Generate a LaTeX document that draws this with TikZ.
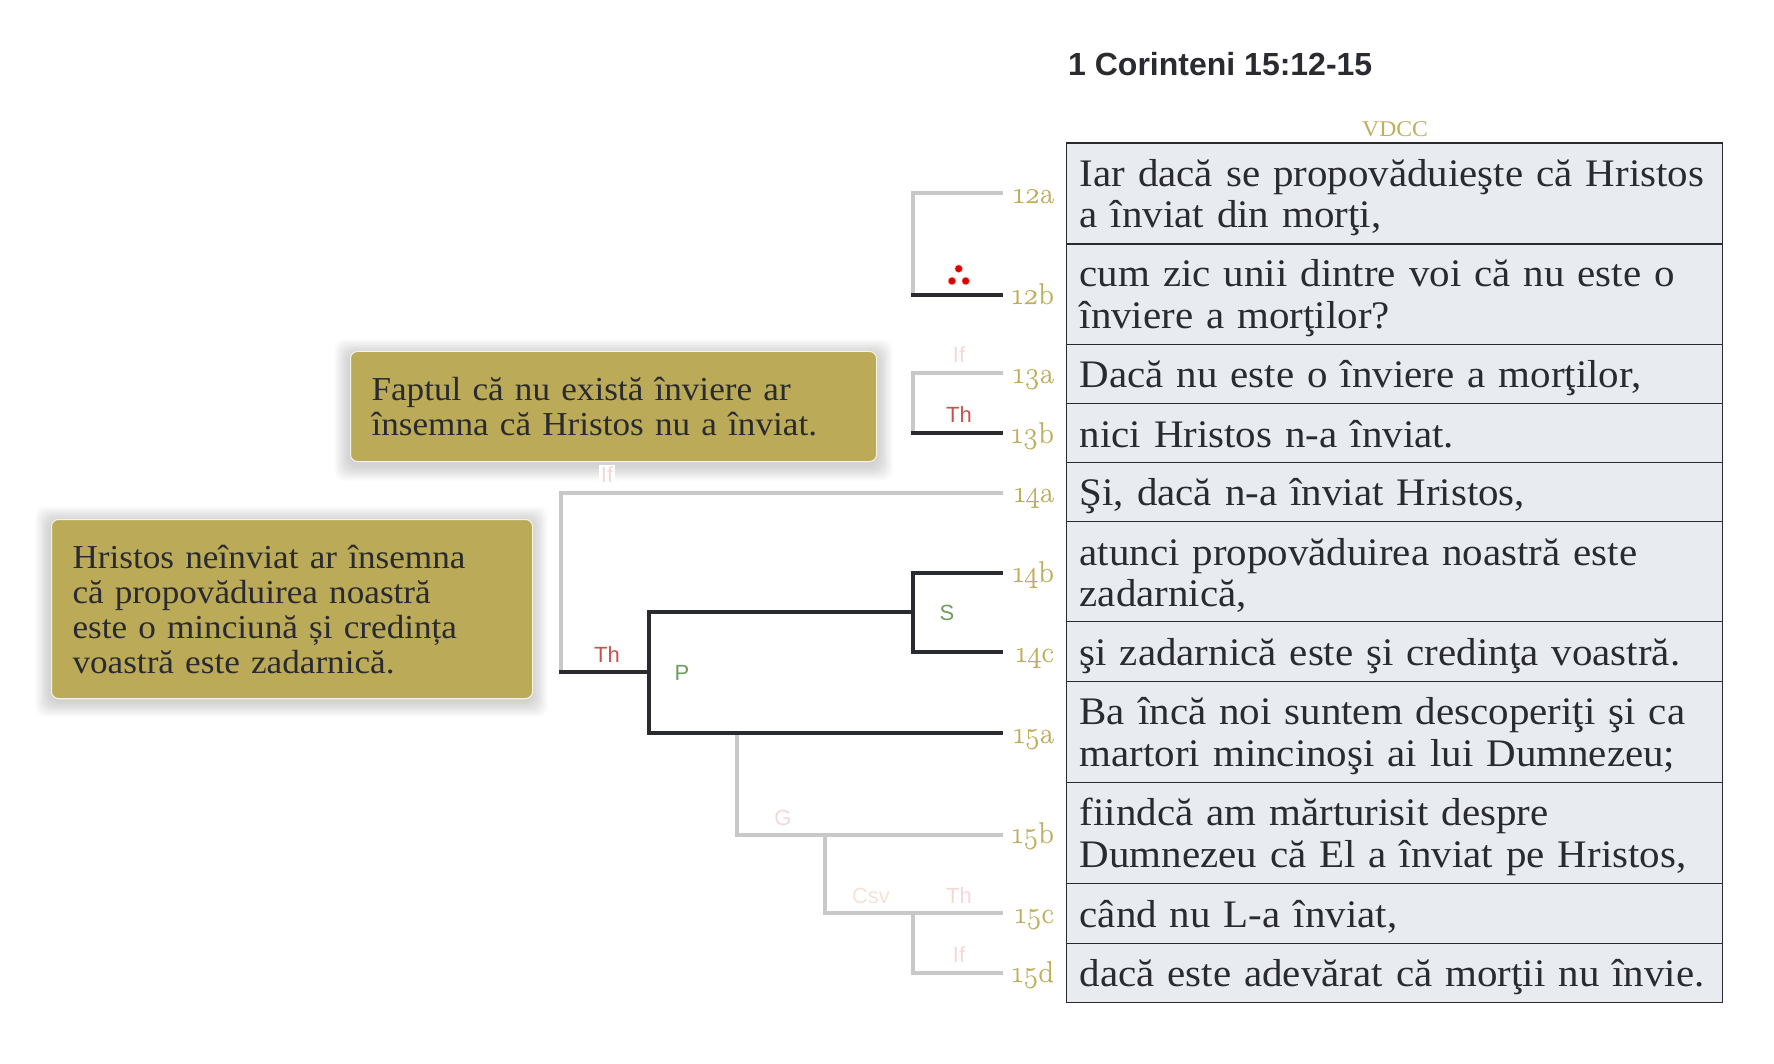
\documentclass[tikz,border=0pt]{standalone}
\usepackage{fontspec}
\setmainfont[FakeStretch=1.05,WordSpace=0.5]{Liberation Serif}
\newfontfamily\sansf{Liberation Sans}
\newfontfamily\numf[Numbers=OldStyle,FakeBold=0.35]{Latin Modern Roman}
\definecolor{ink}{HTML}{2A2B30}
\definecolor{rowfill}{HTML}{E8ECF0}
\definecolor{gold}{HTML}{BFAE5C}
\definecolor{boxgold}{HTML}{BBAA58}
\definecolor{linegray}{HTML}{C8C8C8}
\definecolor{redlab}{HTML}{C8504F}
\definecolor{greenlab}{HTML}{6E9E5E}
\definecolor{palepink}{HTML}{F4D8D8}
\definecolor{palepeach}{HTML}{F6E2D6}
\newcommand{\rowstrut}{\rule[-6.5pt]{0pt}{41.5pt}}
\newcommand{\notestrut}{\rule[-6pt]{0pt}{35pt}}
\normallineskiplimit=-100pt
\lineskiplimit=-100pt
\hyphenpenalty=10000
\tikzset{
  x=1pt,y=-1pt,
  rowbox/.style={draw=ink,line width=1.3pt,fill=rowfill,anchor=north west,minimum width=656pt,text width=630pt,inner xsep=13pt,inner ysep=0pt,align=left,text=ink,font=\fontsize{39}{41.5}\selectfont},
  verse/.style={anchor=base east,text=gold,inner sep=0pt,font=\numf\fontsize{30}{32}\selectfont},
  role/.style={inner sep=0pt,font=\sansf\fontsize{22}{24}\selectfont},
  graybar/.style={draw=linegray,line width=4pt},
  darkbar/.style={draw=ink,line width=4pt},
  note/.style={draw=white!85!boxgold,line width=1pt,fill=boxgold,rounded corners=7pt,anchor=north west,inner xsep=21pt,inner ysep=0pt,align=left,text=ink,font=\fontsize{33.5}{35}\selectfont},
  dot/.style={circle,fill=red!85!black,draw=red,draw opacity=0.3,line width=1.5pt,inner sep=0pt,minimum size=7pt},
}
\begin{document}
\begin{tikzpicture}
\useasboundingbox (0,0) rectangle (1774,1064);
% shadows
\foreach \g in {1,...,12}{
  \fill[black,opacity=0.014,rounded corners=10pt] (350-\g*1.3,352-\g*1.3+3) rectangle (877+\g*1.3,462+\g*1.3+3);
  \fill[black,opacity=0.014,rounded corners=10pt] (51-\g*1.3,519-\g*1.3+3) rectangle (532+\g*1.3,698+\g*1.3+3);
}
% title
\node[anchor=base west,inner sep=0pt,text=ink,font=\sansf\bfseries\fontsize{32}{34}\selectfont] (title) at (1068,76) {1 Corinteni 15:12-15};
\node[inner sep=0pt,text=gold,font=\fontsize{22.5}{26}\selectfont] (vdcc) at (1395,129) {VDCC};
% table
\node[rowbox,minimum height=101pt] (r1) at (1066,142.5) {\rowstrut Iar dacă se propovăduieşte că Hristos\\\rowstrut a înviat din morţi,};
\node[rowbox,minimum height=100.5pt] (r2) at (1066,243.5) {\rowstrut cum zic unii dintre voi că nu este o\\\rowstrut înviere a morţilor?};
\node[rowbox,minimum height=59pt] (r3) at (1066,344) {\rowstrut Dacă nu este o înviere a morţilor,};
\node[rowbox,minimum height=59pt] (r4) at (1066,403) {\rowstrut nici Hristos n-a înviat.};
\node[rowbox,minimum height=59pt] (r5) at (1066,462) {\rowstrut Şi, dacă n-a înviat Hristos,};
\node[rowbox,minimum height=100pt] (r6) at (1066,521) {\rowstrut atunci propovăduirea noastră este\\\rowstrut zadarnică,};
\node[rowbox,minimum height=60pt] (r7) at (1066,621) {\rowstrut şi zadarnică este şi credinţa voastră.};
\node[rowbox,minimum height=101pt] (r8) at (1066,681) {\rowstrut Ba încă noi suntem descoperiţi şi ca\\\rowstrut martori mincinoşi ai lui Dumnezeu;};
\node[rowbox,minimum height=101pt] (r9) at (1066,782) {\rowstrut fiindcă am mărturisit despre\\\rowstrut Dumnezeu că El a înviat pe Hristos,};
\node[rowbox,minimum height=60pt] (r10) at (1066,883) {\rowstrut când nu L-a înviat,};
\node[rowbox,minimum height=59pt] (r11) at (1066,943) {\rowstrut dacă este adevărat că morţii nu învie.};
% verse labels
\node[verse] (v12a) at (1054,203) {12a};
\node[verse] (v12b) at (1054,304) {12b};
\node[verse] (v13a) at (1054,383) {13a};
\node[verse] (v13b) at (1054,443) {13b};
\node[verse] (v14a) at (1054,502) {14a};
\node[verse] (v14b) at (1054,582) {14b};
\node[verse] (v14c) at (1054,662) {14c};
\node[verse] (v15a) at (1054,743) {15a};
\node[verse] (v15b) at (1054,843) {15b};
\node[verse] (v15c) at (1054,923) {15c};
\node[verse] (v15d) at (1054,982) {15d};
% connector end points
\coordinate (e12a) at (1003,193);
\coordinate (e12b) at (1003,295);
\coordinate (e13a) at (1003,373);
\coordinate (e13b) at (1003,433);
\coordinate (e14a) at (1003,493);
\coordinate (e14b) at (1003,573);
\coordinate (e14c) at (1003,652);
\coordinate (e15a) at (1003,733);
\coordinate (e15b) at (1003,835);
\coordinate (e15c) at (1003,913);
\coordinate (e15d) at (1003,973);
\coordinate (s12) at (911,295);
\coordinate (s13) at (911,433);
\coordinate (s14) at (559,672);
\coordinate (p) at (649,672);
\coordinate (pt) at (649,612);
\coordinate (m14) at (913,612);
\coordinate (g) at (737,733);
\coordinate (g2) at (825,835);
\coordinate (c3) at (913,913);
% gray connectors
\draw[graybar] (e12a) -| (913,295);
\draw[graybar] (e13a) -| (913,433);
\draw[graybar] (e14a) -| (561,672);
\draw[graybar] (g) |- (e15b);
\draw[graybar] (g2) |- (e15c);
\draw[graybar] (c3) |- (e15d);
% dark connectors
\draw[darkbar] (s12) -- (e12b);
\draw[darkbar] (s13) -- (e13b);
\draw[darkbar] (s14) -- (p);
\draw[darkbar] (m14) -- (pt) |- (e15a);
\draw[darkbar] (e14b) -| (m14) |- (e14c);
% role labels
\node[role,text=palepink] (rif1) at (959,355) {If};
\node[role,text=redlab] (rth1) at (959,415) {Th};
\node[role,text=palepink,fill=white,inner sep=2pt] (rif2) at (607,475) {If};
\node[role,text=redlab] (rth2) at (607,655) {Th};
\node[role,text=greenlab] (rp) at (682,673) {P};
\node[role,text=greenlab] (rs) at (947,613) {S};
\node[role,text=palepink] (rg) at (783,818) {G};
\node[role,text=palepeach] (rcsv) at (871,896) {Csv};
\node[role,text=palepink] (rth3) at (959,896) {Th};
\node[role,text=palepink] (rif3) at (959,955) {If};
% dots
\node[dot] (d1) at (958.7,268.7) {};
\node[dot] (d2) at (952,281) {};
\node[dot] (d3) at (965.7,281) {};
% notes
\node[note,minimum width=526pt,text width=484pt,minimum height=110pt] (n1) at (350,351) {\notestrut Faptul că nu există înviere ar\\\notestrut însemna că Hristos nu a înviat.};
\node[note,minimum width=481pt,text width=439pt,minimum height=179pt] (n2) at (51,519) {\notestrut Hristos neînviat ar însemna\\\notestrut că propovăduirea noastră\\\notestrut este o minciună și credința\\\notestrut voastră este zadarnică.};
\end{tikzpicture}
\end{document}
